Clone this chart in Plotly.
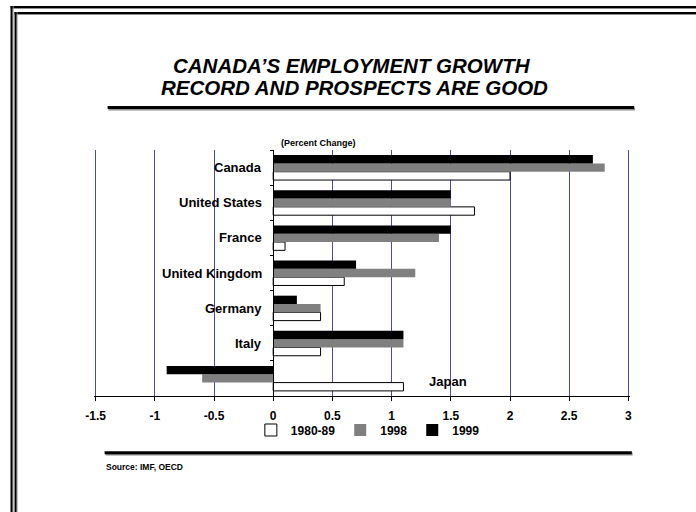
import plotly.graph_objects as go

# ---------------- data ----------------
categories = ["Canada", "United States", "France", "United Kingdom", "Germany", "Italy", "Japan"]
series_names = ["1980-89", "1998", "1999"]
v_1980_89 = [2.0, 1.7, 0.1, 0.6, 0.4, 0.4, 1.1]
v_1998 = [2.8, 1.5, 1.4, 1.2, 0.4, 1.1, -0.6]
v_1999 = [2.7, 1.5, 1.5, 0.7, 0.2, 1.1, -0.9]
x_tick_vals = [-1.5, -1, -0.5, 0, 0.5, 1, 1.5, 2, 2.5, 3]
x_tick_labels = ["-1.5", "-1", "-0.5", "0", "0.5", "1", "1.5", "2", "2.5", "3"]
title_line_1 = "CANADA’S EMPLOYMENT GROWTH"
title_line_2 = "RECORD AND PROSPECTS ARE GOOD"
unit_label = "(Percent Change)"
source_note = "Source: IMF, OECD"

# ---------------- layout geometry ----------------
W, H = 696, 512
X_LO_PX, X_HI_PX = 96, 628.3       # pixel positions of -1.5 and 3
EDGE = 1.6                          # px of padding so edge gridlines are drawn
L, R, T, B = X_LO_PX - EDGE, X_HI_PX + EDGE, 150, 396
XMIN, XMAX = -1.5, 3.0
PAD = EDGE * (XMAX - XMIN) / (X_HI_PX - X_LO_PX)
FONT = "Arial, Liberation Sans, sans-serif"


def px_x(px):
    return (px - L) / (R - L)


def px_y(py):
    return (B - py) / (B - T)


fig = go.Figure()
fig.add_trace(go.Bar(y=categories, x=v_1980_89, name=series_names[0], orientation="h",
                     marker=dict(color="#ffffff", line=dict(color="#000000", width=1))))
fig.add_trace(go.Bar(y=categories, x=v_1998, name=series_names[1], orientation="h",
                     marker=dict(color="#808080", line=dict(width=0))))
fig.add_trace(go.Bar(y=categories, x=v_1999, name=series_names[2], orientation="h",
                     marker=dict(color="#000000", line=dict(width=0))))

annotations = []
# category labels
for cat in categories:
    if cat == "Japan":
        annotations.append(dict(x=1.3, y=cat, xref="x", yref="y", text="<b>%s</b>" % cat,
                                showarrow=False, xanchor="left", yanchor="middle", yshift=-3,
                                font=dict(family=FONT, size=13, color="#000000")))
    else:
        annotations.append(dict(x=0, y=cat, xref="x", yref="y", text="<b>%s</b>" % cat,
                                showarrow=False, xanchor="right", yanchor="middle", xshift=-9,
                                font=dict(family=FONT, size=13, color="#000000")))
# title
annotations.append(dict(x=px_x(352), y=px_y(65), xref="paper", yref="paper",
                        text="<b><i>%s</i></b>" % title_line_1, showarrow=False,
                        xanchor="center", yanchor="middle",
                        font=dict(family=FONT, size=20.5, color="#000000")))
annotations.append(dict(x=px_x(355), y=px_y(87), xref="paper", yref="paper",
                        text="<b><i>%s</i></b>" % title_line_2, showarrow=False,
                        xanchor="center", yanchor="middle",
                        font=dict(family=FONT, size=20.5, color="#000000")))
annotations.append(dict(x=px_x(279), y=px_y(143), xref="paper", yref="paper",
                        text="<b>%s</b>" % unit_label, showarrow=False,
                        xanchor="left", yanchor="middle",
                        font=dict(family=FONT, size=9, color="#000000")))
annotations.append(dict(x=px_x(104), y=px_y(467), xref="paper", yref="paper",
                        text="<b>%s</b>" % source_note, showarrow=False,
                        xanchor="left", yanchor="middle",
                        font=dict(family=FONT, size=8.5, color="#000000")))

shapes = []


def hline(x0, x1, y, color, width):
    shapes.append(dict(type="line", xref="paper", yref="paper",
                       x0=px_x(x0), x1=px_x(x1), y0=px_y(y), y1=px_y(y),
                       line=dict(color=color, width=width)))


def vline(x, y0, y1, color, width):
    shapes.append(dict(type="line", xref="paper", yref="paper",
                       x0=px_x(x), x1=px_x(x), y0=px_y(y0), y1=px_y(y1),
                       line=dict(color=color, width=width)))


# outer double frame (top + left)
hline(11, 700, 8.5, "#909090", 1)
hline(11, 700, 7, "#000000", 2)
vline(13.5, 6, 520, "#909090", 1)
vline(12, 6, 520, "#000000", 2)
hline(15, 700, 14.5, "#909090", 1)
hline(15, 700, 13, "#000000", 2)
vline(17.5, 12, 520, "#909090", 1)
vline(16, 12, 520, "#000000", 2)
# rule under title
hline(109, 635, 109, "#909090", 3)
hline(108, 634, 107.5, "#000000", 3)
# rule above source
hline(106, 632.5, 454, "#909090", 3)
hline(105, 631.7, 452.8, "#000000", 3)

fig.update_layout(
    width=W, height=H,
    margin=dict(l=L, r=W - R, t=T, b=H - B, pad=0),
    paper_bgcolor="#ffffff", plot_bgcolor="#ffffff",
    barmode="group", bargap=0.29, bargroupgap=0,
    font=dict(family=FONT, color="#000000"),
    showlegend=True,
    legend=dict(orientation="h", x=px_x(368), xanchor="center", y=px_y(430), yanchor="middle",
                traceorder="normal", font=dict(family=FONT, size=12, weight="bold"),
                itemwidth=30, tracegroupgap=0, bgcolor="rgba(0,0,0,0)"),
    annotations=annotations,
    shapes=shapes,
)
fig.update_xaxes(range=[XMIN - PAD, XMAX + PAD], tickmode="array", tickvals=x_tick_vals,
                 ticktext=x_tick_labels,
                 showgrid=True, gridcolor="#4a4aac", gridwidth=1, zeroline=False,
                 showline=True, linecolor="#000000", linewidth=1,
                 ticks="outside", ticklen=4, tickcolor="#000000", tickwidth=1,
                 ticklabelstandoff=5,
                 tickfont=dict(family=FONT, size=12, weight="bold", color="#000000"))
fig.update_yaxes(type="category", categoryorder="array", categoryarray=categories[::-1],
                 anchor="free", position=(0 - (XMIN - PAD)) / ((XMAX + PAD) - (XMIN - PAD)),
                 showgrid=False, zeroline=False, showticklabels=False,
                 showline=True, linecolor="#000000", linewidth=1,
                 ticks="outside", ticklen=3, tickcolor="#000000", tickson="boundaries")

fig.write_html("out.html", config={"displayModeBar": False},
               post_script="document.body.style.margin='0px';")
